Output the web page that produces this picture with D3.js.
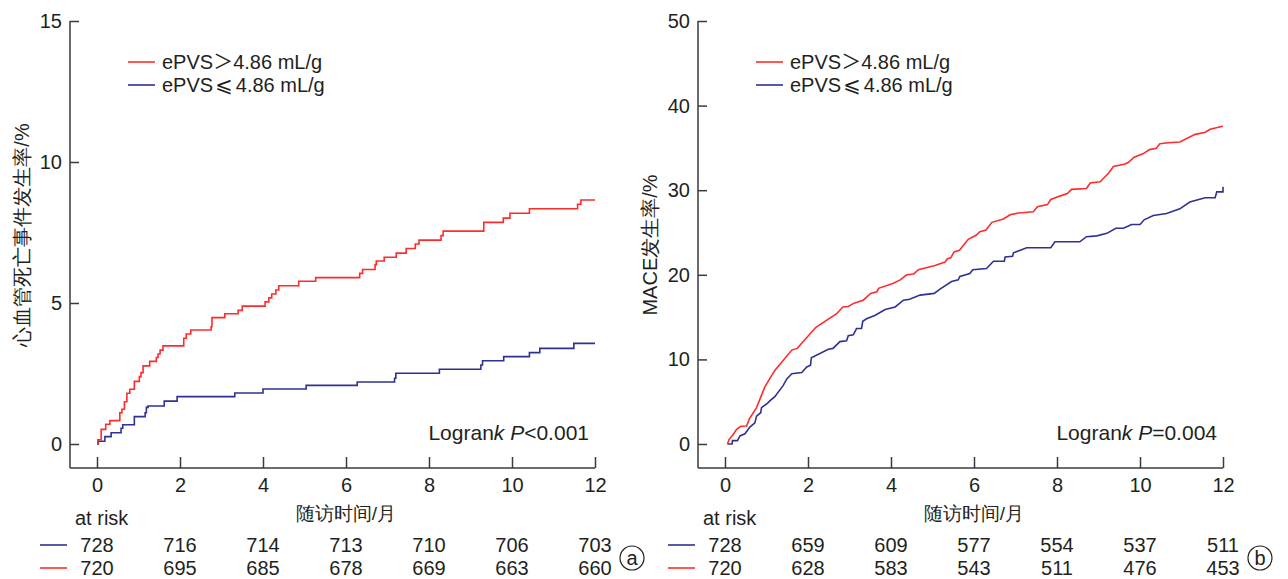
<!DOCTYPE html>
<html>
<head>
<meta charset="utf-8">
<script src="https://cdn.jsdelivr.net/npm/d3@7"></script>
<style>
  body { margin: 0; background: #fff; }
  svg { display: block; font-family: "Liberation Sans", Arial, sans-serif; }
  text { fill: #231f20; }
</style>
</head>
<body>
<svg id="chart" width="1288" height="579"></svg>
<script>
// ---- data ----
let months = [0, 2, 4, 6, 8, 10, 12]
let legendParts = [["ePVS", "\uFF1E", "4.86 mL/g"], ["ePVS", "\u2A7D", "4.86 mL/g"]]

// panel a: cardiovascular death (KM steps)
let cvdHigh = [[0,0],[0.02,0.15],[0.1,0.52],[0.21,0.7],[0.31,0.83],[0.55,1.11],[0.6,1.23],[0.66,1.5],[0.72,1.8],[0.79,1.94],[0.9,2.22],[1.02,2.39],[1.06,2.53],[1.11,2.77],[1.27,2.93],[1.43,3.07],[1.47,3.19],[1.52,3.33],[1.59,3.48],[2.09,3.75],[2.15,3.9],[2.26,4.04],[2.75,4.16],[2.77,4.48],[3.08,4.62],[3.4,4.74],[3.5,4.89],[4.05,5.04],[4.14,5.18],[4.21,5.32],[4.31,5.46],[4.38,5.61],[4.86,5.77],[5.27,5.9],[6.33,6.05],[6.4,6.19],[6.7,6.36],[6.73,6.49],[6.92,6.62],[7.21,6.77],[7.45,6.93],[7.67,7.09],[7.76,7.23],[8.29,7.39],[8.34,7.55],[9.32,7.86],[9.79,8.01],[9.95,8.18],[10.42,8.34],[11.58,8.5],[11.66,8.65],[12,8.65]]
let cvdLow = [[0,0],[0.03,0.1],[0.19,0.26],[0.34,0.4],[0.58,0.56],[0.62,0.68],[0.9,0.97],[1.16,1.11],[1.19,1.3],[1.23,1.35],[1.62,1.52],[1.93,1.68],[3.32,1.81],[4.0,1.95],[5.04,2.08],[6.27,2.2],[7.17,2.33],[7.2,2.51],[8.25,2.65],[9.25,2.8],[9.29,2.95],[9.8,3.1],[10.42,3.24],[10.67,3.39],[11.49,3.57],[12,3.57]]
let riskA_low = [728, 716, 714, 713, 710, 706, 703]
let riskA_high = [720, 695, 685, 678, 669, 663, 660]

// panel b: MACE
let maceHigh = [[0.06,0],[0.1,0.55],[0.2,1.15],[0.28,1.74],[0.38,2.1],[0.52,2.13],[0.59,3.0],[0.76,4.3],[0.96,6.75],[1.2,8.7],[1.61,11.1],[1.74,11.3],[2.19,13.8],[2.69,15.4],[2.84,16.2],[2.97,16.25],[3.11,16.65],[3.33,17.0],[3.51,17.8],[3.66,18.0],[3.7,18.4],[4.06,19.0],[4.22,19.4],[4.38,20.0],[4.55,20.1],[4.66,20.6],[5.06,21.1],[5.3,21.5],[5.36,21.9],[5.44,22.0],[5.52,22.7],[5.65,22.9],[5.86,24.2],[6.06,24.7],[6.14,25.1],[6.29,25.3],[6.43,26.2],[6.71,26.6],[6.87,27.1],[7.07,27.3],[7.43,27.45],[7.53,28.05],[7.77,28.3],[7.85,28.9],[8.07,29.3],[8.25,29.6],[8.35,30.1],[8.71,30.2],[8.8,30.85],[9.04,31.0],[9.24,32.0],[9.36,32.8],[9.64,33.1],[9.72,33.3],[9.86,33.9],[10.07,34.3],[10.23,34.8],[10.39,34.95],[10.48,35.5],[10.68,35.6],[10.96,35.7],[11.33,36.6],[11.57,36.85],[11.69,37.2],[11.89,37.45],[12,37.55]]
let maceLow = [[0.06,0],[0.17,0],[0.18,0.4],[0.3,0.4],[0.36,0.95],[0.48,1.2],[0.6,2.0],[0.72,2.5],[0.76,3.3],[0.86,3.7],[0.88,4.3],[1.02,4.8],[1.08,5.1],[1.2,5.6],[1.4,6.9],[1.49,7.7],[1.61,8.3],[1.85,8.45],[1.97,9.1],[2.06,9.3],[2.08,10.2],[2.49,11.2],[2.6,11.3],[2.77,12.1],[2.93,12.2],[2.97,12.8],[3.09,12.9],[3.17,13.65],[3.29,13.65],[3.32,14.5],[3.41,14.8],[3.61,15.2],[3.86,15.9],[4.1,16.2],[4.3,17.0],[4.45,17.1],[4.7,17.6],[5.04,17.8],[5.18,18.3],[5.46,19.2],[5.62,19.4],[5.66,19.8],[5.9,20.15],[5.97,20.6],[6.3,20.75],[6.47,21.6],[6.73,21.6],[6.75,22.1],[6.93,22.2],[6.95,22.6],[7.27,23.2],[7.85,23.2],[7.95,23.9],[8.55,23.9],[8.71,24.5],[8.96,24.6],[9.2,24.9],[9.42,25.5],[9.6,25.5],[9.8,25.95],[10.0,25.95],[10.1,26.5],[10.32,27.0],[10.64,27.25],[10.96,27.8],[11.2,28.6],[11.57,29.1],[11.81,29.1],[11.85,29.8],[12.0,29.8],[12.0,30.4]]
let riskB_low = [728, 659, 609, 577, 554, 537, 511]
let riskB_high = [720, 628, 583, 543, 511, 476, 453]

let red = "#ff2b2b"
let blue = "#2e3192"
let axisColor = "#3a3a3a"

let svg = d3.select('#chart')

drawPanel({
    left: 70, x0: 97, x1: 595,
    yMax: 15, yTicks: [0, 5, 10, 15],
    yLabel: "心血管死亡事件发生率/%", yLabelX: 22, yLabelY: 235,
    high: cvdHigh, low: cvdLow, curve: d3.curveStepAfter,
    pText: "<0.001",
    riskLow: riskA_low, riskHigh: riskA_high, riskLineX: 40,
    tag: "a", tagX: 632
})

drawPanel({
    left: 698, x0: 725, x1: 1223,
    yMax: 50, yTicks: [0, 10, 20, 30, 40, 50],
    yLabel: "MACE发生率/%", yLabelX: 650, yLabelY: 245,
    high: maceHigh, low: maceLow, curve: d3.curveLinear,
    pText: "=0.004",
    riskLow: riskB_low, riskHigh: riskB_high, riskLineX: 668,
    tag: "b", tagX: 1260
})

function drawPanel(o){
    let top = 21, y0 = 444, axisY = 468

    let x = d3.scaleLinear().domain([0, 12]).range([o.x0, o.x1])
    let y = d3.scaleLinear().domain([0, o.yMax]).range([y0, top])

    let g = svg.append('g')

    // axis lines
    g.append('line')
        .attr('x1', o.left).attr('x2', o.left)
        .attr('y1', top).attr('y2', axisY)
        .attr('stroke', axisColor).attr('stroke-width', 1.5)
    g.append('line')
        .attr('x1', o.left).attr('x2', o.x1)
        .attr('y1', axisY).attr('y2', axisY)
        .attr('stroke', axisColor).attr('stroke-width', 1.5)

    let xAxis = d3.axisBottom(x).tickValues(months).tickSize(-11).tickPadding(10)
    let gx = g.append('g')
        .attr('transform', "translate(0," + axisY + ")")
        .call(xAxis)
    gx.select('.domain').remove()

    let yAxis = d3.axisLeft(y).tickValues(o.yTicks).tickSize(-9).tickPadding(8)
    let gy = g.append('g')
        .attr('transform', "translate(" + o.left + ",0)")
        .call(yAxis)
    gy.select('.domain').remove()

    g.selectAll('.tick line').attr('stroke', axisColor).attr('stroke-width', 1.5)
    g.selectAll('.tick text')
        .style('font-size', '20px')
        .style('font-family', '"Liberation Sans", Arial, sans-serif')
        .attr('fill', '#231f20')

    // curves
    let line = d3.line()
        .x(d => x(d[0]))
        .y(d => y(d[1]))
        .curve(o.curve)

    g.append('path').datum(o.low)
        .attr('d', line).attr('fill', 'none')
        .attr('stroke', blue).attr('stroke-width', 1.6)
    g.append('path').datum(o.high)
        .attr('d', line).attr('fill', 'none')
        .attr('stroke', red).attr('stroke-width', 1.6)

    // legend
    let legX = o.left + 58
    let legend = [{c: red, p: legendParts[0], y: 62}, {c: blue, p: legendParts[1], y: 85}]
    legend.forEach((d, i) => {
        g.append('line')
            .attr('x1', legX).attr('x2', legX + 27)
            .attr('y1', d.y).attr('y2', d.y)
            .attr('stroke', d.c).attr('stroke-width', 1.6)
        let t = g.append('text')
            .attr('x', legX + 34).attr('y', d.y + 7)
            .style('font-size', '20px')
        t.append('tspan').text(d.p[0])
        let sym = t.append('tspan').text(d.p[1])
        if (i == 0) sym.style('font-family', '"Noto Sans CJK SC"')
        else sym.attr('dx', 2).style('font-family', '"DejaVu Sans"').style('font-size', '21px')
        t.append('tspan').attr('dx', i == 0 ? 0 : 3).text(d.p[2])
    })

    // logrank
    let lr = g.append('text')
        .attr('x', o.x1 - 6).attr('y', 440)
        .attr('text-anchor', 'end')
        .style('font-size', '21px')
    lr.append('tspan').text('Logran')
    lr.append('tspan').style('font-style', 'italic').text('k ')
    lr.append('tspan').style('font-style', 'italic').text('P')
    lr.append('tspan').text(o.pText)

    // axis titles
    g.append('text')
        .attr('x', (o.x0 + o.x1) / 2).attr('y', 520)
        .attr('text-anchor', 'middle')
        .style('font-size', '19px')
        .text('随访时间/月')

    g.append('text')
        .attr('transform', "translate(" + o.yLabelX + "," + o.yLabelY + ") rotate(-90)")
        .attr('text-anchor', 'middle')
        .attr('dy', '0.35em')
        .style('font-size', '20px')
        .text(o.yLabel)

    // at risk table
    g.append('text')
        .attr('x', o.left + 5).attr('y', 525)
        .style('font-size', '20px')
        .text('at risk')

    let rows = [{vals: o.riskLow, c: blue, y: 545}, {vals: o.riskHigh, c: red, y: 568}]
    rows.forEach(r => {
        g.append('line')
            .attr('x1', o.riskLineX).attr('x2', o.riskLineX + 27)
            .attr('y1', r.y).attr('y2', r.y)
            .attr('stroke', r.c).attr('stroke-width', 1.6)
        g.selectAll(null)
            .data(r.vals)
            .enter()
            .append('text')
            .attr('x', (d, i) => x(months[i]))
            .attr('y', r.y + 7)
            .attr('text-anchor', 'middle')
            .style('font-size', '20px')
            .text(d => d)
    })

    // panel tag
    g.append('circle')
        .attr('cx', o.tagX).attr('cy', 558).attr('r', 12)
        .attr('fill', 'none').attr('stroke', '#231f20').attr('stroke-width', 1.2)
    g.append('text')
        .attr('x', o.tagX).attr('y', 565)
        .attr('text-anchor', 'middle')
        .style('font-size', '20px')
        .text(o.tag)
}
</script>
</body>
</html>
